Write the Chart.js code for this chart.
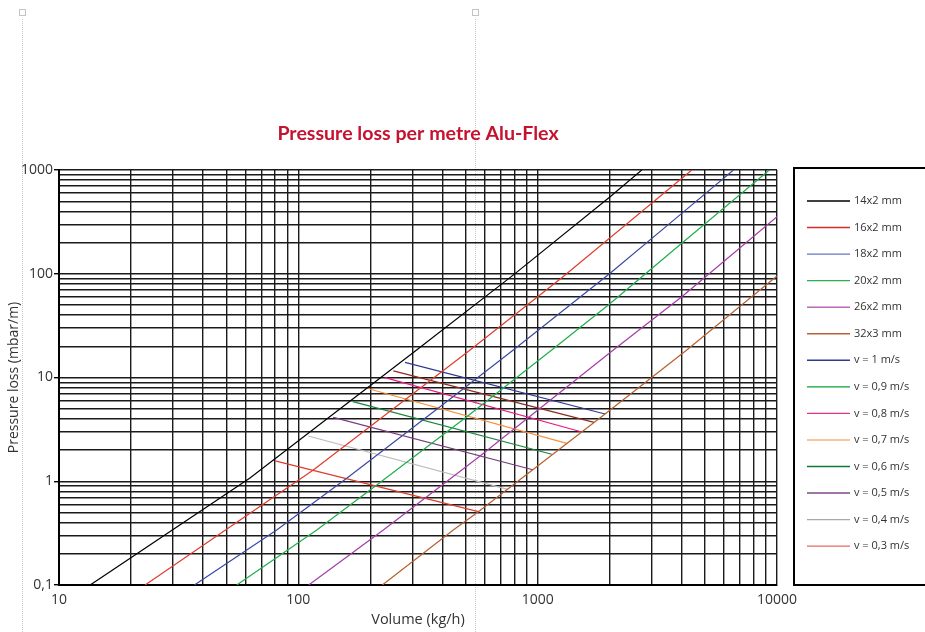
<!DOCTYPE html>
<html lang="en">
<head>
<meta charset="UTF-8">
<title>Pressure loss per metre Alu-Flex</title>
<script src="https://cdn.jsdelivr.net/npm/chart.js"></script>
<style>
    body, html {
        margin: 0;
        padding: 0;
        background: #fff;
    }

    .wrap {
        position: relative;
        width: 925px;
        height: 632px;
        overflow: hidden;
    }

    /* editor guides seen in the original screenshot */
    .guide {
        position: absolute;
        top: 19px;
        bottom: 0;
        width: 0;
        border-left: 1px dotted #c8c8c8;
    }

    .handle {
        position: absolute;
        top: 9px;
        width: 5px;
        height: 5px;
        border: 1px solid #c4c4c4;
    }

    #lossChart {
        position: absolute;
        left: 0;
        top: 0;
    }
</style>
</head>
<body>
<div class="wrap">
    <div class="handle" style="left:19px"></div>
    <div class="handle" style="left:472px"></div>
    <div class="guide" style="left:22px"></div>
    <div class="guide" style="left:475px"></div>
    <canvas id="lossChart" width="925" height="632"></canvas>
</div>

<script>
    // pipe curves: volume (kg/h) and pressure loss (mbar/m)
    var pipeNames = ['14x2 mm', '16x2 mm', '18x2 mm', '20x2 mm', '26x2 mm', '32x3 mm'];
    var pipe14Q = [13.5, 62.8, 312, 790, 2008, 2722];
    var pipe14P = [0.1, 1.075, 18.4, 97, 553, 1000];
    var pipe16Q = [22.9, 62.8, 115.5, 522, 1261, 4406];
    var pipe16P = [0.1, 0.491, 1.283, 18.4, 91.6, 1000];
    var pipe18Q = [36.8, 81.2, 159.3, 391, 791, 2008, 4001, 6577];
    var pipe18P = [0.1, 0.339, 1.067, 5.23, 18.4, 101, 382, 1000];
    var pipe20Q = [55.3, 119.4, 212.6, 505.5, 1145, 1974, 4001, 9290];
    var pipe20P = [0.1, 0.339, 0.92, 4.19, 18.4, 50, 196.6, 1000];
    var pipe26Q = [110.5, 226.5, 574.6, 2071, 4001, 10000];
    var pipe26P = [0.1, 0.339, 1.751, 18.4, 60.1, 354.7];
    var pipe32Q = [224.4, 444, 565, 954, 1912, 4198, 10000];
    var pipe32P = [0.1, 0.339, 0.509, 1.29, 4.45, 18.4, 95.1];

    // constant velocity lines, from the 14x2 curve to the 32x3 curve
    var velNames = ['v = 1 m/s', 'v = 0,9 m/s', 'v = 0,8 m/s', 'v = 0,7 m/s',
                    'v = 0,6 m/s', 'v = 0,5 m/s', 'v = 0,4 m/s', 'v = 0,3 m/s'];
    var velStartQ = [279, 249.5, 230, 198, 169, 140, 110, 80];
    var velStartP = [14.0, 11.6, 9.96, 7.75, 5.85, 4.13, 2.73, 1.57];
    var velEndQ = [1912, 1721, 1518, 1323, 1145, 954, 750, 565];
    var velEndP = [4.45, 3.70, 3.00, 2.32, 1.82, 1.29, 0.836, 0.509];

    var xTickValues = [10, 100, 1000, 10000];
    var xTickLabels = ['10', '100', '1000', '10000'];
    var yTickValues = [0.1, 1, 10, 100, 1000];
    var yTickLabels = ['0,1', '1', '10', '100', '1000'];

    // line colours in the plot, and the (slightly different) ones in the legend
    var pipeColors = ['#000000', '#e23b2c', '#3b48a2', '#1fae4a', '#a63ca8', '#b6602e'];
    var velColors = ['#2e3a90', '#8c2c1e', '#e8197f', '#f7923a', '#17853b', '#7a3a80', '#bdbdbd', '#e23a2a'];
    var pipeLegendColors = ['#000000', '#cf2f2a', '#6674be', '#2bb052', '#b868b8', '#b9603a'];
    var velLegendColors = ['#2e3a90', '#0a9f3a', '#e0358a', '#f8b27a', '#0f7a35', '#7a4a82', '#a8a8a8', '#e66a64'];

    function toPoints(qs, ps) {
        return qs.map(function (q, i) { return { x: q, y: ps[i] }; });
    }

    // grid lines at 1..9 of every decade
    function logGrid(lo, hi) {
        var out = [];
        for (var d = lo; d < hi * 0.999; d *= 10) {
            for (var m = 1; m < 10; m++) {
                out.push(+(m * d).toPrecision(3));
            }
        }
        out.push(hi);
        return out;
    }

    var pipeQ = [pipe14Q, pipe16Q, pipe18Q, pipe20Q, pipe26Q, pipe32Q];
    var pipeP = [pipe14P, pipe16P, pipe18P, pipe20P, pipe26P, pipe32P];

    var datasets = [];
    var legendColors = [];
    pipeNames.forEach(function (name, i) {
        datasets.push({
            label: name,
            data: toPoints(pipeQ[i], pipeP[i]),
            borderColor: pipeColors[i],
            borderWidth: 1.2,
            pointRadius: 0,
            fill: false
        });
        legendColors.push(pipeLegendColors[i]);
    });
    velNames.forEach(function (name, i) {
        datasets.push({
            label: name,
            data: toPoints([velStartQ[i], velEndQ[i]], [velStartP[i], velEndP[i]]),
            borderColor: velColors[i],
            borderWidth: 1.2,
            pointRadius: 0,
            fill: false
        });
        legendColors.push(velLegendColors[i]);
    });

    // boxed legend on the right, drawn from the datasets
    var boxLegend = {
        id: 'boxLegend',
        afterDraw: function (chart) {
            var ctx = chart.ctx;
            ctx.save();
            ctx.strokeStyle = '#000';
            ctx.lineWidth = 2;
            ctx.strokeRect(794, 168, 200, 417);
            ctx.font = '11px "Open Sans"';
            ctx.textBaseline = 'middle';
            chart.data.datasets.forEach(function (ds, i) {
                var y = 201 + i * 26.55;
                ctx.strokeStyle = legendColors[i];
                ctx.lineWidth = 1.4;
                ctx.beginPath();
                ctx.moveTo(807, y);
                ctx.lineTo(850, y);
                ctx.stroke();
                ctx.fillStyle = '#333';
                ctx.fillText(ds.label, 854, y);
            });
            ctx.restore();
        }
    };

    Chart.defaults.font.family = '"Open Sans", sans-serif';
    Chart.defaults.color = '#333';

    var chart = new Chart(document.getElementById('lossChart'), {
        type: 'line',
        data: { datasets: datasets },
        plugins: [boxLegend],
        options: {
            responsive: false,
            animation: false,
            layout: { padding: { right: 148 } },
            plugins: {
                legend: { display: false },
                tooltip: { enabled: false },
                title: {
                    display: true,
                    text: 'Pressure loss per metre Alu-Flex',
                    color: '#c4122f',
                    fullSize: false,
                    font: { family: 'Lato', size: 19.6, weight: 'bold' },
                    padding: { top: 122, bottom: 24.5 }
                }
            },
            scales: {
                x: {
                    type: 'logarithmic',
                    min: 10,
                    max: 10000,
                    afterBuildTicks: function (scale) {
                        scale.ticks = logGrid(10, 10000).map(function (v) { return { value: v }; });
                    },
                    afterFit: function (scale) {
                        scale.height = 47;
                        scale.paddingLeft = 0;
                        scale.paddingRight = 0;
                    },
                    ticks: {
                        autoSkip: false,
                        maxRotation: 0,
                        padding: 7,
                        font: { size: 14 },
                        callback: function (value) {
                            var i = xTickValues.indexOf(value);
                            return i >= 0 ? xTickLabels[i] : '';
                        }
                    },
                    grid: { color: '#1a1a1a', lineWidth: 1.4, drawTicks: false },
                    border: { color: '#000', width: 2 },
                    title: {
                        display: true,
                        text: 'Volume (kg/h)',
                        font: { size: 14.5 },
                        padding: { top: 0, bottom: 3 }
                    }
                },
                y: {
                    type: 'logarithmic',
                    min: 0.1,
                    max: 1000,
                    afterBuildTicks: function (scale) {
                        scale.ticks = logGrid(0.1, 1000).map(function (v) { return { value: v }; });
                    },
                    afterFit: function (scale) {
                        scale.width = 59;
                        scale.paddingTop = 0;
                        scale.paddingBottom = 0;
                    },
                    ticks: {
                        autoSkip: false,
                        padding: 1,
                        font: { size: 14 },
                        callback: function (value) {
                            var i = yTickValues.indexOf(value);
                            return i >= 0 ? yTickLabels[i] : '';
                        }
                    },
                    grid: {
                        color: '#1a1a1a',
                        lineWidth: 1.4,
                        tickLength: 5,
                        tickColor: function (ctx) {
                            return ctx.tick && yTickValues.indexOf(ctx.tick.value) >= 0 ? '#000' : 'rgba(0,0,0,0)';
                        }
                    },
                    border: { color: '#000', width: 2 },
                    title: {
                        display: true,
                        text: 'Pressure loss (mbar/m)',
                        font: { size: 14 },
                        padding: { top: 6, bottom: 0 }
                    }
                }
            }
        }
    });
</script>
</body>
</html>
